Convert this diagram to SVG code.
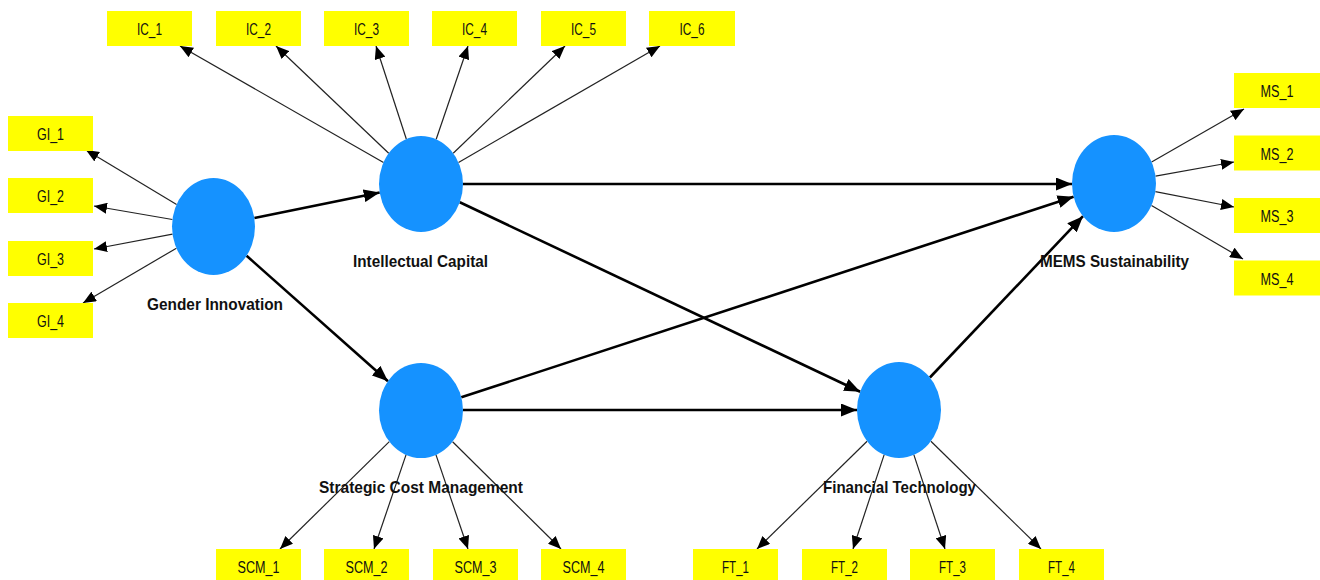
<svg xmlns="http://www.w3.org/2000/svg" width="1320" height="580" viewBox="0 0 1320 580">
<defs>
<style>
.box{fill:#ffff00}
.bt{font-family:"Liberation Sans",Arial,sans-serif;font-size:16px;fill:#111;text-anchor:middle}
.lv{fill:#1592ff}
.lt{font-family:"Liberation Sans",Arial,sans-serif;font-size:17px;font-weight:bold;fill:#111;text-anchor:middle}
.ind{stroke:#222;stroke-width:1.2;fill:none;marker-end:url(#ah)}
.str{stroke:#000;stroke-width:2.6;fill:none;marker-end:url(#ahb)}
</style>
<marker id="ah" markerUnits="userSpaceOnUse" markerWidth="13" markerHeight="11" refX="13" refY="5.5" orient="auto"><path d="M0,0 L13,5.5 L0,11 z" fill="#000"/></marker>
<marker id="ahb" markerUnits="userSpaceOnUse" markerWidth="16" markerHeight="13" refX="16" refY="6.5" orient="auto"><path d="M0,0 L16,6.5 L0,13 z" fill="#000"/></marker>
</defs>
<rect width="1320" height="580" fill="#fff"/>
<g id="connectors">
<line class="ind" x1="383.5" y1="162.5" x2="180" y2="46"/>
<line class="ind" x1="388.7" y1="153.3" x2="276" y2="46"/>
<line class="ind" x1="406.3" y1="139" x2="376" y2="46"/>
<line class="ind" x1="436.2" y1="139.3" x2="468" y2="46"/>
<line class="ind" x1="453.2" y1="153.2" x2="565" y2="46"/>
<line class="ind" x1="458.5" y1="162.4" x2="660" y2="46"/>
<line class="ind" x1="176.6" y1="204.4" x2="86" y2="150"/>
<line class="ind" x1="172.4" y1="219.5" x2="94" y2="206"/>
<line class="ind" x1="172.5" y1="234.2" x2="94" y2="249"/>
<line class="ind" x1="176.4" y1="248.2" x2="83" y2="303"/>
<line class="ind" x1="1151.6" y1="161.9" x2="1244" y2="109"/>
<line class="ind" x1="1155.5" y1="176.1" x2="1234" y2="162"/>
<line class="ind" x1="1155.4" y1="191.6" x2="1234" y2="207"/>
<line class="ind" x1="1151.5" y1="205.4" x2="1243" y2="259"/>
<line class="ind" x1="389.3" y1="441.6" x2="280" y2="549"/>
<line class="ind" x1="406" y1="454.9" x2="374" y2="549"/>
<line class="ind" x1="436" y1="454.9" x2="468" y2="549"/>
<line class="ind" x1="452.6" y1="441.8" x2="561" y2="549"/>
<line class="ind" x1="867.1" y1="441.2" x2="757" y2="549"/>
<line class="ind" x1="884.1" y1="454.9" x2="853" y2="549"/>
<line class="ind" x1="913.9" y1="454.9" x2="945" y2="549"/>
<line class="ind" x1="930.9" y1="441.2" x2="1041" y2="549"/>
<line class="str" x1="254.4" y1="218.1" x2="379.7" y2="192.5"/>
<line class="str" x1="246.6" y1="255.8" x2="388" y2="381.2"/>
<line class="str" x1="463" y1="184" x2="1072" y2="184"/>
<line class="str" x1="459.8" y1="202.3" x2="860.2" y2="391.7"/>
<line class="str" x1="461.3" y1="397.3" x2="1073.6" y2="196.7"/>
<line class="str" x1="463" y1="410" x2="857" y2="410"/>
<line class="str" x1="929.9" y1="377.5" x2="1083" y2="216.2"/>
</g>
<g id="IC_1"><rect class="box" x="107" y="11" width="85" height="35"/><text class="bt" x="149.5" y="35" textLength="25" lengthAdjust="spacingAndGlyphs">IC_1</text></g>
<g id="IC_2"><rect class="box" x="216" y="11" width="85" height="35"/><text class="bt" x="258.5" y="35" textLength="25" lengthAdjust="spacingAndGlyphs">IC_2</text></g>
<g id="IC_3"><rect class="box" x="324" y="11" width="85" height="35"/><text class="bt" x="366.5" y="35" textLength="25" lengthAdjust="spacingAndGlyphs">IC_3</text></g>
<g id="IC_4"><rect class="box" x="432" y="11" width="85" height="35"/><text class="bt" x="474.5" y="35" textLength="25" lengthAdjust="spacingAndGlyphs">IC_4</text></g>
<g id="IC_5"><rect class="box" x="541" y="11" width="85" height="35"/><text class="bt" x="583.5" y="35" textLength="25" lengthAdjust="spacingAndGlyphs">IC_5</text></g>
<g id="IC_6"><rect class="box" x="649" y="11" width="86" height="35"/><text class="bt" x="692" y="35" textLength="25" lengthAdjust="spacingAndGlyphs">IC_6</text></g>
<g id="GI_1"><rect class="box" x="8" y="116" width="85" height="35"/><text class="bt" x="50.5" y="140" textLength="27" lengthAdjust="spacingAndGlyphs">GI_1</text></g>
<g id="GI_2"><rect class="box" x="8" y="178" width="85" height="35"/><text class="bt" x="50.5" y="202" textLength="27" lengthAdjust="spacingAndGlyphs">GI_2</text></g>
<g id="GI_3"><rect class="box" x="8" y="241" width="85" height="35"/><text class="bt" x="50.5" y="265" textLength="27" lengthAdjust="spacingAndGlyphs">GI_3</text></g>
<g id="GI_4"><rect class="box" x="8" y="303" width="85" height="35"/><text class="bt" x="50.5" y="327" textLength="27" lengthAdjust="spacingAndGlyphs">GI_4</text></g>
<g id="MS_1"><rect class="box" x="1234" y="73" width="86" height="35"/><text class="bt" x="1277" y="97" textLength="33" lengthAdjust="spacingAndGlyphs">MS_1</text></g>
<g id="MS_2"><rect class="box" x="1234" y="135.5" width="86" height="35"/><text class="bt" x="1277" y="159.5" textLength="33" lengthAdjust="spacingAndGlyphs">MS_2</text></g>
<g id="MS_3"><rect class="box" x="1234" y="198" width="86" height="35"/><text class="bt" x="1277" y="222" textLength="33" lengthAdjust="spacingAndGlyphs">MS_3</text></g>
<g id="MS_4"><rect class="box" x="1234" y="260.5" width="86" height="35"/><text class="bt" x="1277" y="284.5" textLength="33" lengthAdjust="spacingAndGlyphs">MS_4</text></g>
<g id="SCM_1"><rect class="box" x="216" y="549" width="85" height="35"/><text class="bt" x="258.5" y="573" textLength="42" lengthAdjust="spacingAndGlyphs">SCM_1</text></g>
<g id="SCM_2"><rect class="box" x="324" y="549" width="85" height="35"/><text class="bt" x="366.5" y="573" textLength="42" lengthAdjust="spacingAndGlyphs">SCM_2</text></g>
<g id="SCM_3"><rect class="box" x="433" y="549" width="85" height="35"/><text class="bt" x="475.5" y="573" textLength="42" lengthAdjust="spacingAndGlyphs">SCM_3</text></g>
<g id="SCM_4"><rect class="box" x="541" y="549" width="85" height="35"/><text class="bt" x="583.5" y="573" textLength="42" lengthAdjust="spacingAndGlyphs">SCM_4</text></g>
<g id="FT_1"><rect class="box" x="693" y="549" width="85" height="35"/><text class="bt" x="735.5" y="573" textLength="27" lengthAdjust="spacingAndGlyphs">FT_1</text></g>
<g id="FT_2"><rect class="box" x="802" y="549" width="85" height="35"/><text class="bt" x="844.5" y="573" textLength="27" lengthAdjust="spacingAndGlyphs">FT_2</text></g>
<g id="FT_3"><rect class="box" x="910" y="549" width="85" height="35"/><text class="bt" x="952.5" y="573" textLength="27" lengthAdjust="spacingAndGlyphs">FT_3</text></g>
<g id="FT_4"><rect class="box" x="1019" y="549" width="85" height="35"/><text class="bt" x="1061.5" y="573" textLength="27" lengthAdjust="spacingAndGlyphs">FT_4</text></g>
<g id="GenderInnovation"><ellipse class="lv" cx="213.5" cy="226.5" rx="41.5" ry="48.5"/><text class="lt" x="215" y="310" textLength="136" lengthAdjust="spacingAndGlyphs">Gender Innovation</text></g>
<g id="IntellectualCapital"><ellipse class="lv" cx="421" cy="184" rx="42" ry="48"/><text class="lt" x="420.5" y="267" textLength="135" lengthAdjust="spacingAndGlyphs">Intellectual Capital</text></g>
<g id="MEMSSustainability"><ellipse class="lv" cx="1114" cy="183.5" rx="42" ry="48.5"/><text class="lt" x="1114.5" y="266.5" textLength="149" lengthAdjust="spacingAndGlyphs">MEMS Sustainability</text></g>
<g id="StrategicCostManagement"><ellipse class="lv" cx="421" cy="410.5" rx="42" ry="47.5"/><text class="lt" x="421" y="493" textLength="204" lengthAdjust="spacingAndGlyphs">Strategic Cost Management</text></g>
<g id="FinancialTechnology"><ellipse class="lv" cx="899" cy="410" rx="42" ry="48"/><text class="lt" x="899.5" y="493" textLength="153" lengthAdjust="spacingAndGlyphs">Financial Technology</text></g>
</svg>
